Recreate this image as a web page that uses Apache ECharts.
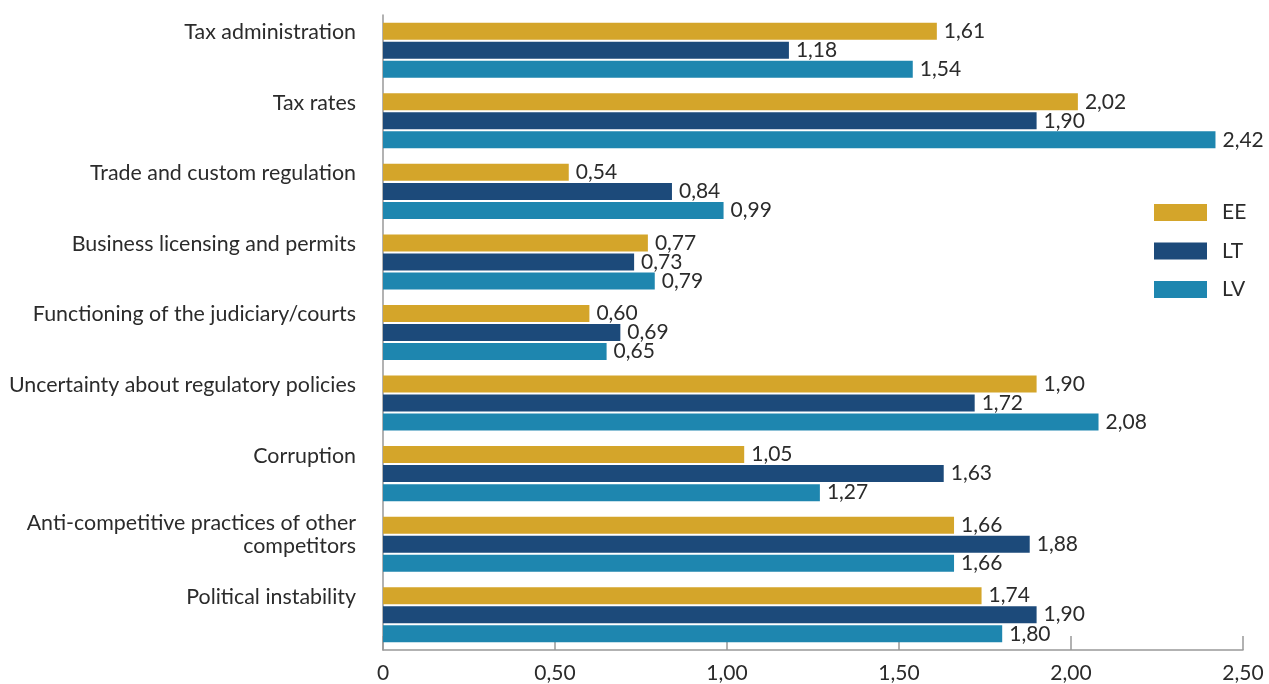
<!DOCTYPE html>
<html>
<head>
<meta charset="utf-8">
<script src="https://cdn.jsdelivr.net/npm/echarts@6/dist/echarts.min.js"></script>
<style>html,body{margin:0;padding:0;background:#fff}#c{width:1269px;height:684px}</style>
</head>
<body>
<div id="c"></div>
<script>
const categories = [
  "Tax administration",
  "Tax rates",
  "Trade and custom regulation",
  "Business licensing and permits",
  "Functioning of the judiciary/courts",
  "Uncertainty about regulatory policies",
  "Corruption",
  "Anti-competitive practices of other\ncompetitors",
  "Political instability"
];
const seriesNames = ["EE", "LT", "LV"];
const valuesEE = [1.61, 2.02, 0.54, 0.77, 0.60, 1.90, 1.05, 1.66, 1.74];
const valuesLT = [1.18, 1.90, 0.84, 0.73, 0.69, 1.72, 1.63, 1.88, 1.90];
const valuesLV = [1.54, 2.42, 0.99, 0.79, 0.65, 2.08, 1.27, 1.66, 1.80];
const colors = ["#D4A52A", "#1C4A7A", "#1E86AF"];

const fmt = v => v === 0 ? "0" : v.toFixed(2).replace(".", ",");
const FONT = "Lato";
const TXT = "#2b2b2b";
const FS = 21;
const FS_CAT = 21.4;

function mk(name, data, color) {
  return {
    name: name, type: "bar", data: data,
    barWidth: 17, barGap: "12%",
    itemStyle: { color: color },
    label: {
      show: true, position: "right", distance: 7,
      fontFamily: FONT, fontSize: FS, color: TXT,
      formatter: p => fmt(p.value)
    }
  };
}

const chart = echarts.init(document.getElementById("c"));
chart.setOption({
  animation: false,
  grid: { left: 383, right: 26, top: 15, bottom: 33, containLabel: false },
  legend: {
    orient: "vertical", left: 1154, top: 202, padding: 0,
    itemWidth: 53, itemHeight: 17, itemGap: 17.5,
    icon: "rect",
    textStyle: { fontFamily: FONT, fontSize: FS, color: TXT, padding: [0, 0, 0, 10] },
    data: seriesNames
  },
  xAxis: {
    type: "value", min: 0, max: 2.5, interval: 0.5,
    axisLine: { show: true, lineStyle: { color: "#999", width: 1.5 } },
    axisTick: { show: true, inside: true, length: 14, lineStyle: { color: "#999", width: 1.5 } },
    splitLine: { show: false },
    axisLabel: { fontFamily: FONT, fontSize: FS, color: TXT, margin: 13, formatter: fmt }
  },
  yAxis: {
    type: "category", inverse: true, data: categories,
    axisLine: { show: true, lineStyle: { color: "#999", width: 1.5 } },
    axisTick: { show: false },
    axisLabel: {
      fontFamily: FONT, fontSize: FS_CAT, color: TXT, margin: 27, lineHeight: 23,
      align: "right", verticalAlign: "middle",
      rich: { s: { lineHeight: 36, fontSize: FS_CAT }, t: { lineHeight: 19, fontSize: FS_CAT } },
      formatter: v => v.indexOf("\n") >= 0 ? v + "\n{t| }" : v + "\n{s| }"
    }
  },
  series: [
    mk(seriesNames[0], valuesEE, colors[0]),
    mk(seriesNames[1], valuesLT, colors[1]),
    mk(seriesNames[2], valuesLV, colors[2])
  ]
});
</script>
</body>
</html>
